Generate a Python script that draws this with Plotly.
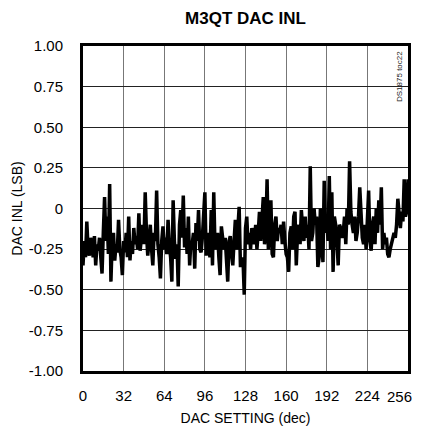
import plotly.graph_objects as go

dac_setting = list(range(0, 257))
inl_lsb = [
    -0.35, -0.20, -0.30, -0.08, -0.25, -0.29, -0.18, -0.22, -0.30, -0.17,
    -0.35, -0.22, -0.26, -0.18, -0.30, -0.40, -0.15, 0.07, -0.20, -0.05,
    -0.28, 0.15, -0.45, -0.20, -0.15, -0.32, -0.22, -0.27, -0.07, -0.25,
    -0.30, -0.41, -0.20, -0.27, -0.15, -0.30, -0.05, -0.32, -0.20, -0.28,
    -0.12, -0.22, -0.17, -0.25, -0.03, -0.26, -0.18, -0.10, -0.22, 0.10,
    -0.15, -0.29, -0.20, -0.10, -0.25, -0.35, -0.15, -0.20, 0.11, -0.22,
    -0.30, -0.43, -0.20, -0.11, -0.25, -0.18, -0.28, -0.07, -0.22, -0.30,
    -0.45, 0.05, -0.20, -0.31, -0.22, -0.48, -0.10, -0.01, -0.18, 0.08,
    -0.24, -0.12, -0.28, -0.05, -0.35, -0.20, -0.22, -0.15, -0.37, -0.09,
    -0.20, -0.01, -0.25, -0.27, -0.18, -0.05, 0.10, -0.29, -0.15, -0.22,
    -0.30, -0.01, -0.35, 0.10, -0.25, -0.18, -0.15, -0.30, -0.41, -0.11,
    -0.20, -0.25, -0.18, -0.30, -0.45, -0.20, -0.17, -0.28, -0.35, -0.20,
    -0.07, -0.25, -0.15, 0.01, -0.35, -0.35, -0.30, -0.53, -0.12, -0.05,
    -0.22, -0.15, -0.25, -0.12, -0.18, -0.22, -0.10, -0.25, -0.15, -0.02,
    -0.20, -0.08, 0.07, -0.22, -0.15, 0.18, -0.25, -0.05, 0.05, -0.28,
    -0.30, -0.10, -0.05, -0.20, -0.12, -0.15, -0.10, -0.22, -0.08, -0.20,
    -0.28, -0.30, -0.39, -0.15, -0.11, -0.25, -0.05, -0.02, -0.35, -0.15,
    -0.10, -0.22, -0.01, -0.12, -0.20, -0.05, -0.18, -0.10, -0.25, 0.26,
    -0.20, -0.15, 0.00, -0.10, -0.05, -0.36, -0.30, 0.00, -0.15, -0.33,
    0.17, -0.15, -0.05, -0.20, 0.20, -0.25, 0.10, -0.39, -0.05, -0.10,
    -0.20, -0.35, -0.10, -0.12, -0.18, -0.15, -0.05, -0.22, 0.00, -0.10,
    0.29, -0.02, -0.10, -0.15, -0.05, -0.20, -0.15, -0.05, 0.13, -0.08,
    -0.18, -0.22, -0.10, -0.25, -0.08, 0.11, -0.20, -0.26, -0.10, -0.05,
    -0.22, 0.00, -0.15, 0.05, -0.10, 0.13, -0.25, -0.15, -0.22, -0.18,
    -0.28, -0.30, -0.25, -0.22, -0.20, -0.15, -0.18, -0.10, 0.06, -0.05,
    -0.12, -0.02, -0.08, 0.18, -0.05, -0.02, 0.18,
]

x_ticks = [0, 32, 64, 96, 128, 160, 192, 224, 256]
x_tick_labels = ["0", "32", "64", "96", "128", "160", "192", "224", "256"]
y_ticks = [1.0, 0.75, 0.5, 0.25, 0.0, -0.25, -0.5, -0.75, -1.0]
y_tick_labels = ["1.00", "0.75", "0.50", "0.25", "0", "-0.25", "-0.50", "-0.75", "-1.00"]

FONT = "Liberation Sans, Arial, sans-serif"

fig = go.Figure()
fig.add_trace(go.Scatter(
    x=dac_setting, y=inl_lsb, mode="lines",
    line=dict(color="black", width=3.5),
    showlegend=False, hoverinfo="skip",
))

# last x tick label is drawn as an annotation, right-aligned so it stays in view
axis_tick_text = x_tick_labels[:-1] + [""]

fig.update_layout(
    width=423, height=418,
    margin=dict(l=75, r=23, t=38, b=55, autoexpand=False),
    paper_bgcolor="white", plot_bgcolor="white",
    font=dict(family=FONT, size=15, color="black"),
    title=dict(text="<b>M3QT DAC INL</b>", x=0.5615, xanchor="center",
               xref="container", yref="container",
               y=0.9749, yanchor="middle",
               font=dict(size=17, family=FONT)),
    xaxis=dict(
        range=[0, 256], tickvals=x_ticks, ticktext=axis_tick_text,
        showgrid=True, gridcolor="#777777", gridwidth=1,
        showline=True, linecolor="black", linewidth=3, mirror=True,
        zeroline=False, ticks="", ticklabelstandoff=9, automargin=False,
        tickfont=dict(size=15),
        title=dict(text="DAC SETTING (dec)", standoff=13, font=dict(size=14)),
    ),
    yaxis=dict(
        range=[-1, 1], tickvals=y_ticks, ticktext=y_tick_labels,
        showgrid=True, gridcolor="#222222", gridwidth=1,
        showline=True, linecolor="black", linewidth=3, mirror=True,
        zeroline=False, ticks="", ticklabelstandoff=14, automargin=False,
        tickfont=dict(size=15),
        title=dict(text="DAC INL (LSB)", standoff=3, font=dict(size=14)),
    ),
    annotations=[
        dict(
            text="DS1875 toc22", xref="paper", yref="paper", x=1.0, y=1.0,
            xanchor="right", yanchor="top", textangle=-90, showarrow=False,
            xshift=-2, yshift=-3, font=dict(size=8, family=FONT, color="#222222"),
        ),
        dict(
            text=x_tick_labels[-1], xref="x", yref="paper", x=x_ticks[-1], y=0,
            xanchor="right", yanchor="top", showarrow=False,
            xshift=6, yshift=-15, font=dict(size=15, family=FONT),
        ),
    ],
)

fig.write_html("out.html")
